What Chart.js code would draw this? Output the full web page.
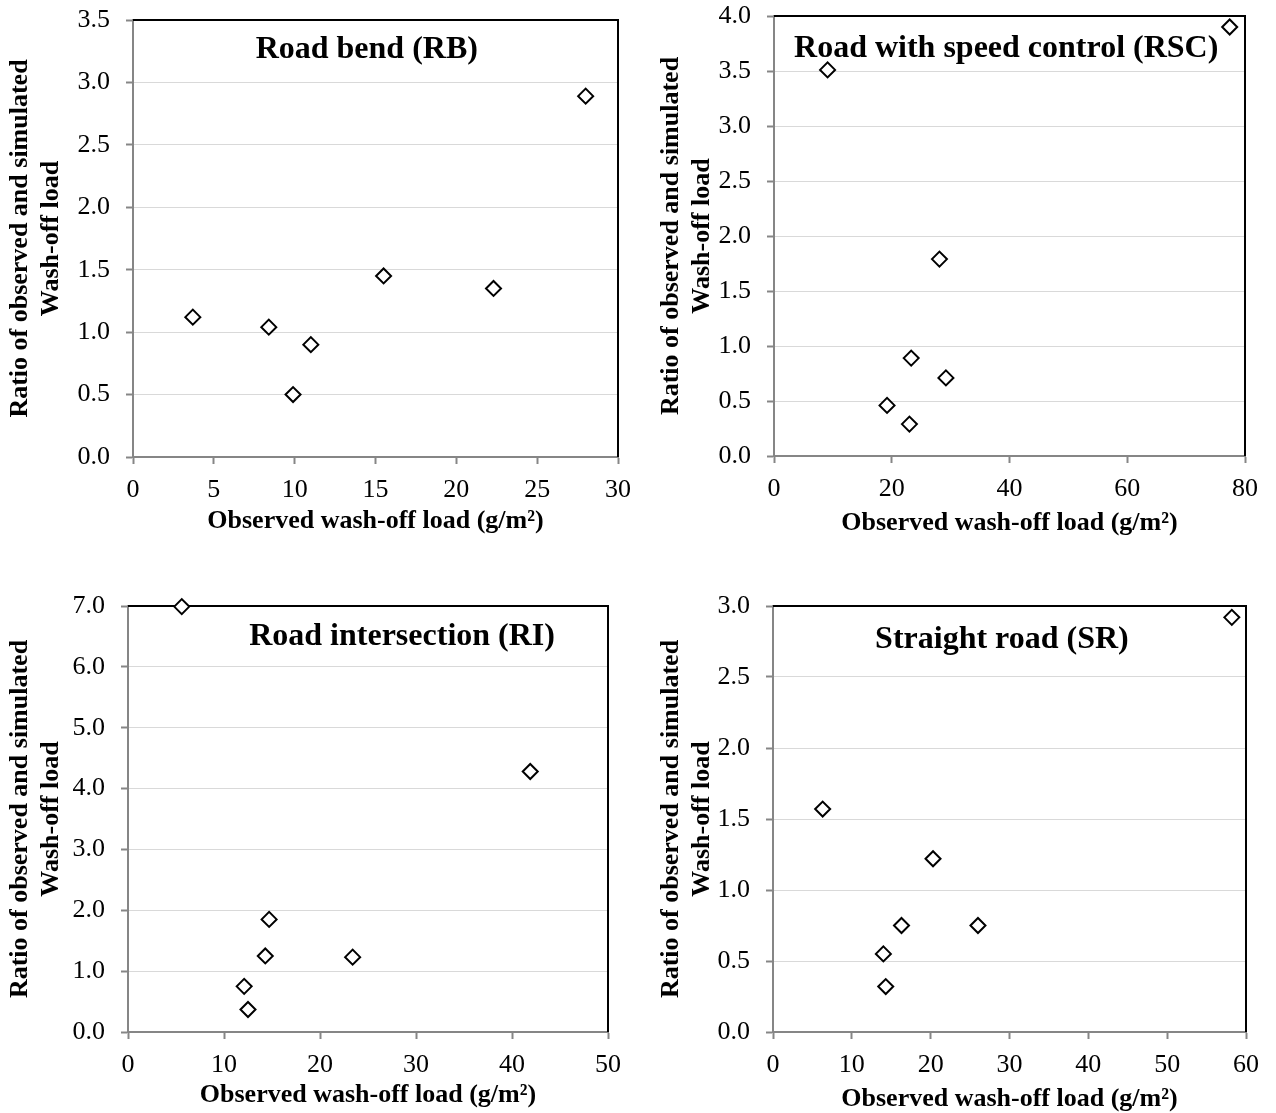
<!DOCTYPE html>
<html lang="en">
<head>
  <meta charset="UTF-8" />
  <title>Wash-off load ratio</title>
  <script src="https://cdn.jsdelivr.net/npm/chart.js"></script>
  <style>
    body {
      margin: 0;
      background: #fff;
      width: 1276px;
      height: 1113px;
      position: relative;
      overflow: hidden;
    }
    .panel {
      position: absolute;
    }
  </style>
</head>
<body>

  <div class="panel" style="left:0;top:0;width:640px;height:560px;"><canvas id="c1"></canvas></div>
  <div class="panel" style="left:640px;top:0;width:636px;height:560px;"><canvas id="c2"></canvas></div>
  <div class="panel" style="left:0;top:580px;width:640px;height:533px;"><canvas id="c3"></canvas></div>
  <div class="panel" style="left:640px;top:580px;width:636px;height:533px;"><canvas id="c4"></canvas></div>

  <script>
    // Observed wash-off load (g/m2) and observed/simulated ratio, per road type
    const rbX  = [3.7, 8.4, 9.9, 11.0, 15.5, 22.3, 28.0];
    const rbY  = [1.12, 1.04, 0.50, 0.90, 1.45, 1.35, 2.89];
    const rscX = [9.1, 28.1, 23.3, 29.2, 19.2, 23.0, 77.4];
    const rscY = [3.51, 1.79, 0.89, 0.71, 0.46, 0.29, 3.90];
    const riX  = [5.6, 41.9, 14.7, 14.3, 23.4, 12.1, 12.5];
    const riY  = [6.99, 4.28, 1.85, 1.25, 1.23, 0.75, 0.37];
    const srX  = [6.3, 20.3, 16.3, 26.0, 14.0, 14.3, 58.2];
    const srY  = [1.57, 1.22, 0.75, 0.75, 0.55, 0.32, 2.92];

    const panelTitles = ['Road bend (RB)', 'Road with speed control (RSC)', 'Road intersection (RI)', 'Straight road (SR)'];
    const xMax  = [30, 80, 50, 60];
    const xStep = [5, 20, 10, 10];
    const yMax  = [3.5, 4, 7, 3];
    const yStep = [0.5, 0.5, 1, 0.5];

    const xTitle = 'Observed wash-off load (g/m\u00b2)';
    const yTitle = ['Ratio of observed and simulated', 'Wash-off load'];

    // layout per panel: canvas size, plot area edges, title spots
    const layouts = [
      { w: 640, h: 560, l: 133, t: 20, r: 618, b: 457, xTitleY: 521, yTitleX: 20, titleX: 0.482, titleDy: 30 },
      { w: 636, h: 560, l: 134, t: 16, r: 605, b: 456, xTitleY: 523, yTitleX: 31, titleX: 0.493, titleDy: 33 },
      { w: 640, h: 533, l: 128, t: 26, r: 608, b: 452, xTitleY: 515, yTitleX: 20, titleX: 0.571, titleDy: 31 },
      { w: 636, h: 533, l: 133, t: 26, r: 606, b: 452, xTitleY: 519, yTitleX: 31, titleX: 0.484, titleDy: 34 }
    ];

    const serif = '"Liberation Serif", "Times New Roman", serif';
    const axisGray = '#868686';
    const titleFont = { family: serif, size: 26, weight: 'bold', lineHeight: 1.2 };
    const tickFont = { family: serif, size: 26 };

    // black top and right edges of the plot box, drawn under the markers
    const framePlugin = {
      id: 'frame',
      beforeDatasetsDraw(chart) {
        const { ctx, chartArea: a } = chart;
        ctx.save();
        ctx.strokeStyle = '#000';
        ctx.lineWidth = 2;
        ctx.beginPath();
        ctx.moveTo(a.left, a.top);
        ctx.lineTo(a.right, a.top);
        ctx.lineTo(a.right, a.bottom);
        ctx.stroke();
        ctx.restore();
      }
    };

    // panel caption written inside the plot area
    const captionPlugin = {
      id: 'caption',
      afterDraw(chart, args, opts) {
        const { ctx, chartArea: a } = chart;
        ctx.save();
        ctx.font = 'bold 32px ' + serif;
        ctx.fillStyle = '#000';
        ctx.textAlign = 'center';
        ctx.textBaseline = 'middle';
        ctx.fillText(opts.text, a.left + opts.fx * (a.right - a.left), a.top + opts.dy);
        ctx.restore();
      }
    };

    function makeChart(i, xs, ys) {
      const L = layouts[i];
      const points = xs.map((x, k) => ({ x: x, y: ys[k] }));
      const titleLH = titleFont.size * titleFont.lineHeight;

      return new Chart(document.getElementById('c' + (i + 1)), {
        type: 'scatter',
        data: {
          datasets: [{
            data: points,
            pointStyle: 'rectRot',
            pointRadius: 7.5,
            pointHoverRadius: 7.5,
            borderWidth: 2,
            borderColor: '#000',
            backgroundColor: '#fff',
            clip: false
          }]
        },
        options: {
          responsive: true,
          maintainAspectRatio: false,
          animation: false,
          events: [],
          layout: {
            padding: { top: L.t, right: L.w - L.r, left: 0, bottom: 0 }
          },
          plugins: {
            legend: { display: false },
            tooltip: { enabled: false },
            caption: { text: panelTitles[i], fx: L.titleX, dy: L.titleDy }
          },
          scales: {
            x: {
              type: 'linear',
              min: 0,
              max: xMax[i],
              afterFit(scale) {
                scale.height = L.h - L.b;
                scale.paddingLeft = 0;
                scale.paddingRight = 0;
              },
              ticks: {
                stepSize: xStep[i],
                color: '#000',
                padding: 11,
                maxRotation: 0,
                font: tickFont
              },
              grid: {
                drawOnChartArea: false,
                tickColor: axisGray,
                tickLength: 7,
                tickWidth: 2
              },
              border: { color: axisGray, width: 2 },
              title: {
                display: true,
                text: xTitle,
                color: '#000',
                font: titleFont,
                padding: { top: 0, bottom: L.h - L.xTitleY - titleLH / 2 }
              }
            },
            y: {
              type: 'linear',
              min: 0,
              max: yMax[i],
              afterFit(scale) {
                scale.width = L.l;
                scale.paddingTop = 0;
                scale.paddingBottom = 0;
              },
              ticks: {
                stepSize: yStep[i],
                color: '#000',
                padding: 16,
                font: tickFont,
                callback: v => v.toFixed(1)
              },
              grid: {
                color: '#d9d9d9',
                lineWidth: 1,
                tickColor: axisGray,
                tickLength: 7,
                tickWidth: 2
              },
              border: { color: axisGray, width: 2 },
              title: {
                display: true,
                text: yTitle,
                color: '#000',
                font: titleFont,
                padding: { top: L.yTitleX - titleLH / 2, bottom: 0 }
              }
            }
          }
        },
        plugins: [framePlugin, captionPlugin]
      });
    }

    makeChart(0, rbX, rbY);
    makeChart(1, rscX, rscY);
    makeChart(2, riX, riY);
    makeChart(3, srX, srY);
  </script>
</body>
</html>
